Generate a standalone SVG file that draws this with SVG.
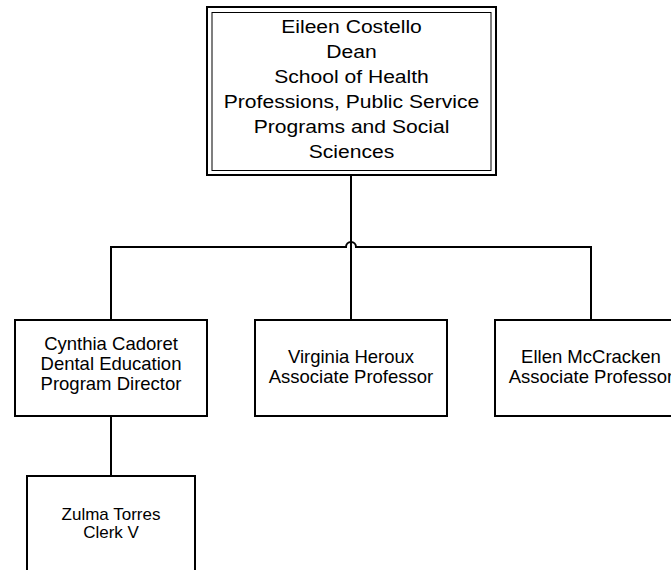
<svg xmlns="http://www.w3.org/2000/svg" width="671" height="570" viewBox="0 0 671 570">
<style>
.box{fill:#fff;stroke:#000;stroke-width:2}
.inner{fill:none;stroke:#000;stroke-width:1}
.conn{fill:none;stroke:#000;stroke-width:2}
text{font-family:"Liberation Sans",Arial,sans-serif;fill:#000;text-anchor:middle}
.t1{font-size:18.5px}
.t2{font-size:18.5px}
.t3{font-size:17px}
</style>
<rect width="671" height="570" fill="#fff"/>
<g id="connectors">
<path class="conn" d="M351 175 V320"/>
<path class="conn" d="M111 320 V247 H346 A5 5 0 0 1 356 247 H591 V320"/>
<path class="conn" d="M111 416 V476"/>
</g>
<g id="dean">
<rect class="box" x="207" y="7" width="289" height="168"/>
<rect class="inner" x="212" y="12.5" width="279" height="158"/>
<g transform="translate(351.5 0) scale(1.14 1)" class="t1">
<text x="0" y="33">Eileen Costello</text>
<text x="0" y="58">Dean</text>
<text x="0" y="83">School of Health</text>
<text x="0" y="108">Professions, Public Service</text>
<text x="0" y="133">Programs and Social</text>
<text x="0" y="158">Sciences</text>
</g>
</g>
<g id="cadoret">
<rect class="box" x="15" y="320" width="192" height="96"/>
<text class="t2" x="111" y="350">Cynthia Cadoret</text>
<text class="t2" x="111" y="370">Dental Education</text>
<text class="t2" x="111" y="390">Program Director</text>
</g>
<g id="heroux">
<rect class="box" x="255" y="320" width="192" height="96"/>
<text class="t2" x="351" y="363">Virginia Heroux</text>
<text class="t2" x="351" y="383">Associate Professor</text>
</g>
<g id="mccracken">
<rect class="box" x="495" y="320" width="192" height="96"/>
<text class="t2" x="591" y="363">Ellen McCracken</text>
<text class="t2" x="591" y="383">Associate Professor</text>
</g>
<g id="torres">
<rect class="box" x="27" y="476" width="168" height="110"/>
<text class="t3" x="111" y="520">Zulma Torres</text>
<text class="t3" x="111" y="538">Clerk V</text>
</g>
</svg>
